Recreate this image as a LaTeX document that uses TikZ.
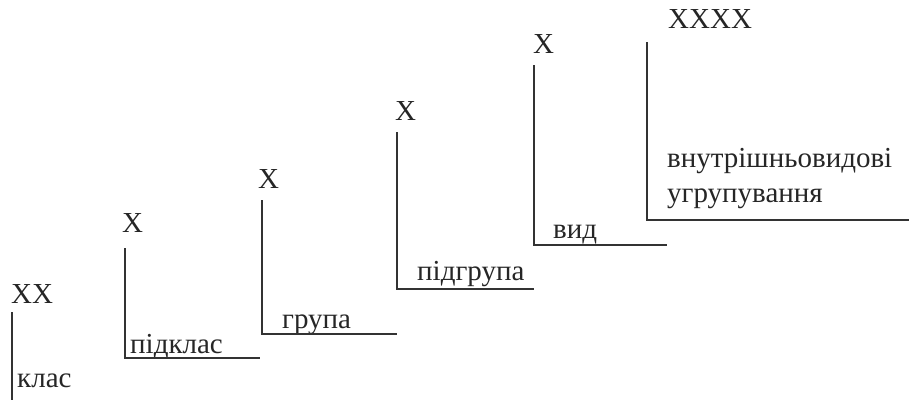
\documentclass[tikz,border=0pt]{standalone}
\usepackage{fontspec}
\setmainfont{Liberation Serif}
\begin{document}
\begin{tikzpicture}[x=1pt,y=-1pt,
  lbl/.style={anchor=base west, inner sep=0pt, text=black!85, font=\fontsize{29}{34}\selectfont},
  ln/.style={line width=1.3pt, draw=black!80}]
\useasboundingbox (0,0) rectangle (909,400);
% stage 1
\node[lbl] (x1) at (11,303) {XX};
\node[lbl] (t1) at (17,387) {клас};
\coordinate (a1) at (12,312); \coordinate (b1) at (12,400);
\draw[ln] (a1) -- (b1);
% stage 2
\node[lbl] (x2) at (122,232) {X};
\node[lbl] (t2) at (130,353) {підклас};
\coordinate (a2) at (125,248); \coordinate (b2) at (125,358); \coordinate (c2) at (260,358);
\draw[ln] (a2) -- (b2) -- (c2);
% stage 3
\node[lbl] (x3) at (258,188) {X};
\node[lbl] (t3) at (282,328) {група};
\coordinate (a3) at (262,200); \coordinate (b3) at (262,334); \coordinate (c3) at (397,334);
\draw[ln] (a3) -- (b3) -- (c3);
% stage 4
\node[lbl] (x4) at (395,120) {X};
\node[lbl] (t4) at (417,280) {підгрупа};
\coordinate (a4) at (397,132); \coordinate (b4) at (397,289); \coordinate (c4) at (534,289);
\draw[ln] (a4) -- (b4) -- (c4);
% stage 5
\node[lbl] (x5) at (533,53) {X};
\node[lbl] (t5) at (553,238) {вид};
\coordinate (a5) at (534,65); \coordinate (b5) at (534,245); \coordinate (c5) at (667,245);
\draw[ln] (a5) -- (b5) -- (c5);
% stage 6
\node[lbl] (x6) at (668,28) {XXXX};
\node[lbl] (t6) at (667,167) {внутрішньовидові};
\node[lbl] (u6) at (667,202) {угрупування};
\coordinate (a6) at (647,42); \coordinate (b6) at (647,220); \coordinate (c6) at (909,220);
\draw[ln] (a6) -- (b6) -- (c6);
\end{tikzpicture}
\end{document}
